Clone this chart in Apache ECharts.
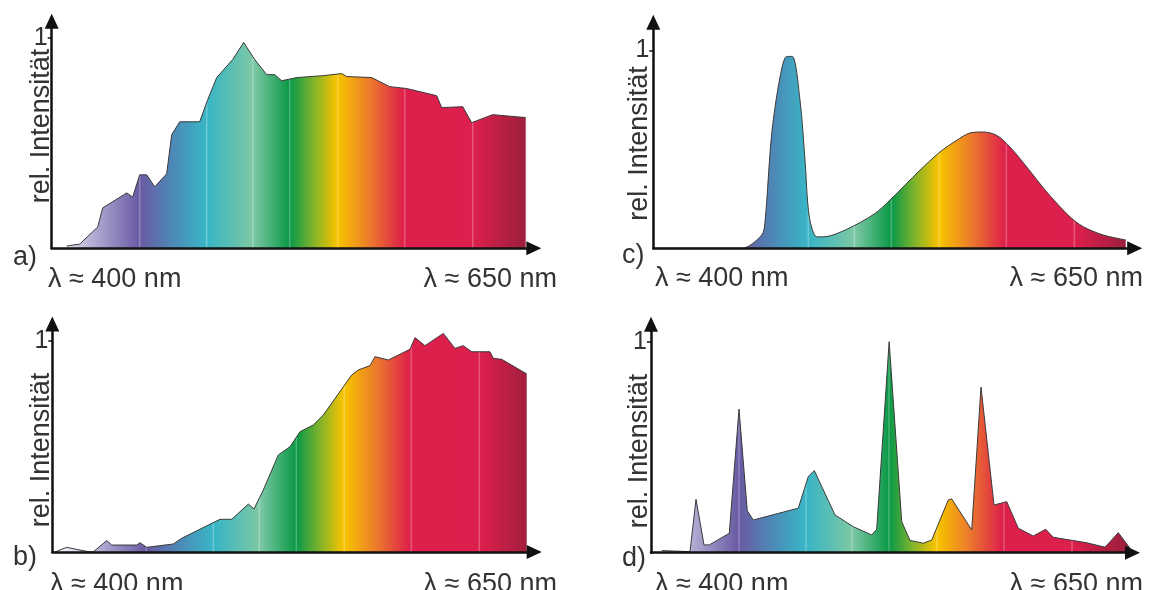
<!DOCTYPE html>
<html>
<head>
<meta charset="utf-8">
<script src="https://cdn.jsdelivr.net/npm/echarts@6/dist/echarts.min.js"></script>
<style>
html,body{margin:0;padding:0;background:#fff;}
#chart{width:1154px;height:590px;}
</style>
</head>
<body>
<div id="chart"></div>
<script>
// ---------------- data (wavelength in nm, relative intensity) ----------------
const aNm  = [380.5, 389.6, 402.2, 405.7, 422.5, 426.7, 431.6, 436.5, 442.1, 450.5, 454, 459.6, 473.6, 479.2, 485.5, 496.7, 504.4, 512.1, 520.5, 526.1, 531, 541.5, 559.7, 573, 576.5, 594, 606.6, 618.5, 639.5, 643, 657.7, 664, 678.7, 701.8];
const aVal = [0.011, 0.02, 0.101, 0.192, 0.263, 0.244, 0.349, 0.349, 0.292, 0.354, 0.54, 0.601, 0.601, 0.706, 0.811, 0.897, 0.978, 0.897, 0.825, 0.825, 0.796, 0.811, 0.82, 0.83, 0.816, 0.811, 0.768, 0.759, 0.725, 0.668, 0.673, 0.597, 0.635, 0.621];

const bNm  = [371.9, 380.1, 396.4, 398.7, 408.1, 411.6, 429.1, 431.4, 436.1, 454.7, 460.6, 487.4, 495.6, 507.2, 511.2, 517.7, 528.2, 536.4, 543.4, 552.7, 559.7, 579.6, 584.2, 592.4, 595.9, 605.2, 620.4, 623.9, 630.9, 643.7, 651.9, 657.7, 663.6, 676.4, 678.7, 684.6, 702.1];
const bVal = [0, 0.022, 0, 0.001, 0.054, 0.033, 0.033, 0.044, 0.022, 0.038, 0.065, 0.155, 0.155, 0.227, 0.204, 0.294, 0.46, 0.499, 0.57, 0.602, 0.649, 0.839, 0.863, 0.883, 0.926, 0.91, 0.961, 1.016, 0.978, 1.036, 0.965, 0.978, 0.949, 0.949, 0.918, 0.913, 0.844];

const cNm  = [370, 431.9, 445.9, 448.2, 452.9, 458.7, 463.4, 467.3, 472.7, 476.2, 479.2, 484.4, 489, 505.4, 525.2, 535.7, 556.7, 570.7, 582.4, 591.7, 601, 610.4, 619.7, 631.4, 645.4, 661.7, 671, 685, 700.7];
const cVal = [0, 0, 0.067, 0.134, 0.58, 0.865, 0.97, 0.97, 0.748, 0.445, 0.159, 0.058, 0.058, 0.096, 0.176, 0.244, 0.395, 0.487, 0.546, 0.583, 0.588, 0.571, 0.512, 0.411, 0.285, 0.159, 0.109, 0.067, 0.042];

const dNm  = [377.5, 397.3, 401.5, 407.1, 410.8, 424.8, 431.6, 437.4, 441.6, 473.1, 480.1, 484.3, 498.8, 511.6, 524.5, 528, 536.7, 545.5, 551.3, 560.6, 566.5, 578.1, 580.5, 594.5, 601, 610.1, 619, 627.1, 637.6, 646.3, 651.6, 675, 687.8, 697.1, 705.3];
const dVal = [0.01, 0.005, 0.253, 0.037, 0.037, 0.092, 0.681, 0.199, 0.155, 0.211, 0.361, 0.389, 0.179, 0.123, 0.084, 0.111, 1.0, 0.147, 0.058, 0.045, 0.06, 0.25, 0.255, 0.108, 0.785, 0.226, 0.242, 0.116, 0.079, 0.111, 0.073, 0.047, 0.026, 0.095, 0.021];

// spectrum colour stops (nm -> colour)
const spectrumNm     = [370, 379.1, 398, 431.6, 454, 478.5, 510.7, 536.6, 553.4, 570.2, 592.6, 617.1, 664.7, 701.8, 707.5];
const spectrumColors = ['#f4f2f9', '#e4e1f1', '#b6afd5', '#6a5ba4', '#4d88b6', '#39b5c5', '#7ac7a4', '#0d9a48', '#82b42a', '#f7c200', '#ec7a2c', '#dd1f4b', '#dc1f4c', '#9c1f3b', '#981e3a'];
const spectrumLines  = [431.6, 478.5, 510.7, 536.6, 570.2, 617.1, 664.7];

const panelLetters = ['a)', 'b)', 'c)', 'd)'];
const leftLabel  = 'λ ≈ 400 nm';
const rightLabel = 'λ ≈ 650 nm';
const yName = 'rel. Intensität';
const yTickLabels = ['1'];

// ---------------- layout ----------------
const NM0 = 370, NM_PER_PX = 0.7;
const layout = [
  {left: 51.7,  right: 533.8,  base: 248.3, top: 21.2,  one: 37.8,  shift: 0, letter: [13, 258],  lab: [48, 557, 279.6],  yl: [41.6, 126]},
  {left: 52.3,  right: 534.2,  base: 552,   top: 324,   one: 341,   shift: 6, letter: [13, 557.6],lab: [50, 557, 584.2],  yl: [41.6, 450]},
  {left: 653.3, right: 1134.7, base: 248.3, top: 22.2,  one: 50.5,  shift: 0, letter: [622, 255.6], lab: [655, 1143, 278.6], yl: [640, 143.5]},
  {left: 651,   right: 1132.5, base: 552.7, top: 324.2, one: 341.7, shift: 0, letter: [622, 558.6], lab: [655, 1143, 584.2], yl: [640, 451]}
];
const seriesNm  = [aNm, bNm, cNm, dNm];
const seriesVal = [aVal, bVal, cVal, dVal];
const smoothing = [false, false, 0.3, false];

const FONT = '"Liberation Sans", Arial, Helvetica, sans-serif';
const TXT = '#333333';

function hexToRgb(h){ h=h.replace('#',''); return [parseInt(h.slice(0,2),16),parseInt(h.slice(2,4),16),parseInt(h.slice(4,6),16)]; }
function lighten(h, t){ const c=hexToRgb(h).map(v=>Math.round(v+(255-v)*t)); return 'rgb('+c.join(',')+')'; }

function gradientFor(p){
  const span = (spectrumNm[spectrumNm.length-1]-NM0);
  const stops = [];
  const off = nm => Math.min(1, Math.max(0, (nm-NM0)/span));
  spectrumNm.forEach((nm,i)=>{
    const col = spectrumColors[i];
    if (spectrumLines.indexOf(nm) >= 0) {
      stops.push({offset: off(nm-0.9), color: col});
      stops.push({offset: off(nm), color: lighten(col, 0.3)});
      stops.push({offset: off(nm+0.9), color: col});
    } else {
      stops.push({offset: off(nm), color: col});
    }
  });
  const x0 = p.left + p.shift;
  return {type:'linear', x: x0, y: 0, x2: x0 + span/NM_PER_PX, y2: 0, colorStops: stops, global: true};
}

const grids=[], xAxes=[], yAxes=[], series=[], graphics=[];
layout.forEach((p,i)=>{
  grids.push({left: p.left, top: p.top, width: p.right-p.left, height: p.base-p.top, containLabel:false, outerBoundsMode:'none'});
  xAxes.push({
    type:'value', gridIndex:i, min: NM0, max: NM0 + NM_PER_PX*(p.right-p.left), z: 10,
    axisLine:{show:true, onZero:false, symbol:['none','triangle'], symbolSize:[14,15], lineStyle:{color:'#111', width:2.5}},
    axisTick:{show:false}, axisLabel:{show:false}, splitLine:{show:false}
  });
  yAxes.push({
    type:'value', gridIndex:i, min:0, max:(p.base-p.top)/(p.base-p.one), interval:1, z: 10,
    axisLine:{show:true, onZero:false, symbol:['none','triangle'], symbolSize:[14,15], lineStyle:{color:'#111', width:2.5}},
    axisTick:{show:true, customValues:[1], length:4, lineStyle:{color:'#111', width:1.5}},
    axisLabel:{show:true, customValues:[1], margin:4, fontSize:25, fontFamily:FONT, color:TXT,
      formatter: v => (Math.abs(v-1)<1e-6 ? yTickLabels[0] : '')},
    splitLine:{show:false}
  });
  series.push({
    type:'line', xAxisIndex:i, yAxisIndex:i, symbol:'none', smooth: smoothing[i], z:2,
    data: seriesNm[i].map((x,k)=>[x, seriesVal[i][k]]),
    lineStyle:{color:'#3a3a3a', width:1},
    areaStyle:{color: gradientFor(p), opacity:1},
    silent:true, animation:false
  });
  const ts = {fontSize:27, fontFamily:FONT, fill:TXT};
  graphics.push({type:'text', x:p.letter[0], y:p.letter[1], style:Object.assign({text:panelLetters[i], align:'left', verticalAlign:'middle'}, ts)});
  graphics.push({type:'text', x:p.lab[0], y:p.lab[2], style:Object.assign({text:leftLabel, align:'left', verticalAlign:'middle'}, ts)});
  graphics.push({type:'text', x:p.lab[1], y:p.lab[2], style:Object.assign({text:rightLabel, align:'right', verticalAlign:'middle'}, ts)});
  graphics.push({type:'text', x:p.yl[0], y:p.yl[1], rotation:Math.PI/2, style:Object.assign({text:yName, align:'center', verticalAlign:'middle'}, ts)});
});

const chart = echarts.init(document.getElementById('chart'), null, {renderer:'canvas'});
chart.setOption({
  animation:false,
  backgroundColor:'#ffffff',
  grid:grids, xAxis:xAxes, yAxis:yAxes, series:series,
  graphic:graphics
});
</script>
</body>
</html>
